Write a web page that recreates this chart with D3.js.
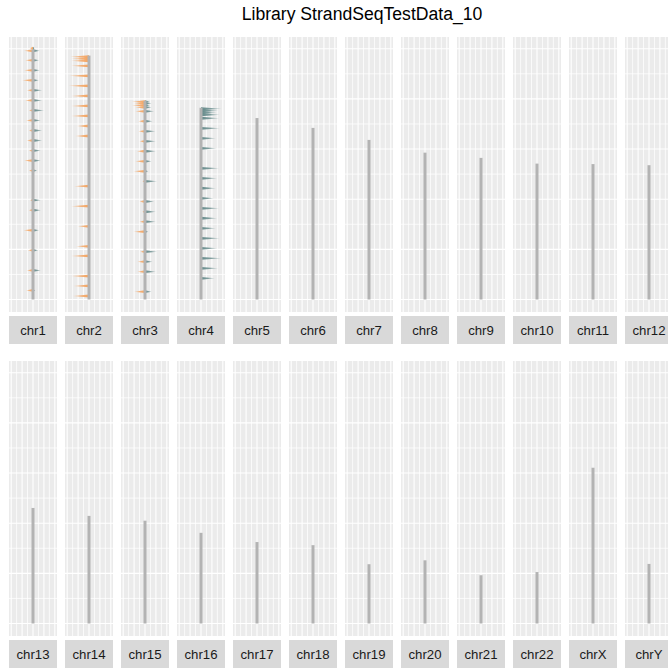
<!DOCTYPE html>
<html>
<head>
<meta charset="utf-8">
<script src="https://cdn.jsdelivr.net/npm/d3@7"></script>
<style>
  html, body { margin: 0; padding: 0; background: #fff; }
  svg { display: block; font-family: "Liberation Sans", Arial, Helvetica, sans-serif; }
</style>
</head>
<body>
<script>
// ---------------- data ----------------
const chartTitle = "Library StrandSeqTestData_10";
const chromosomes = ["chr1","chr2","chr3","chr4","chr5","chr6","chr7","chr8","chr9","chr10","chr11","chr12",
                     "chr13","chr14","chr15","chr16","chr17","chr18","chr19","chr20","chr21","chr22","chrX","chrY"];
// chromosome lengths (Mb)
const chromLengths = [249.25,243.2,198.0,191.15,180.9,171.1,159.1,146.4,141.2,135.5,135.0,133.9,
                      115.2,107.3,102.5,90.4,81.2,78.1,59.1,63.0,48.1,51.3,155.3,59.4];
// segments: [position (Mb), crick count (left), watson count (right)]
const chr1Segments = [
  [250.5,6,3],
  [248,16.5,12.8],[238.5,14.7,11.5],[228.5,16.5,12.8],[218.5,20.2,11],[208.5,11.5,17],
  [198.5,14.7,17],[188.5,7.9,20.7],[178.5,12.8,14.7],[168.5,7.9,17],[158.5,11.5,17],
  [148.5,7.9,14.7],[138.5,16.5,14.7],[128.5,7.9,7.9],[99,5.5,14.7],[89,7.9,14.7],
  [69,17.8,11.5],[49,9.7,9.7],[29,11.5,14.7],[9,12.8,4.2]
];
const chr2Segments = [
  [242,34.8,0],[240,33,0],[238,33,0],[233,33,0],[223,36.7,0],[213,38,0],[203,33,0],
  [193,33,0],[183,33,0],[173,22.5,0],[163,25.7,0],[113,27.5,0],[93,33,0],[73,20.7,0],
  [53,23.8,0],[43.4,33,0],[23.4,33,0],[13.5,28.8,0],[3.5,29.9,0]
];
const chr3Segments = [
  [197.2,24.4,9.2],[195.6,20.2,12.3],[193.6,24.4,9.2],[191.6,18.3,12.3],[187.6,18.3,17],
  [177.7,12.3,14.1],[167.7,12.3,19.6],[157.7,10.4,20.2],[147.8,15.2,20.2],[137.8,18.3,12.3],
  [127.8,21.4,6],[117.8,5,22.5],[97.7,10.4,17],[87.5,5,20.2],[77.6,10.4,20.2],
  [67.6,21.4,6],[47.7,9.2,22.5],[37.7,14.1,14.1],[27.7,14.1,20.2],[7.8,20.2,12.3]
];
const chr4Segments = [
  [190.2,0,37.9],[188.2,0,31.7],[186.2,0,28.8],[184.2,0,34.8],[180.7,0,33.5],[170.7,0,34.8],
  [160.7,0,27.5],[150.7,0,28.8],[130.8,0,33.5],[120.8,0,29.9],[110.9,0,27.5],[100.9,0,23.8],
  [90.9,0,33.5],[81,0,29.9],[71,0,27.5],[61,0,34.8],[51,0,29.9],[41.1,0,37.9],[31.1,0,31.7],[21.1,0,25.7]
];
const segmentsByChrom = { chr1: chr1Segments, chr2: chr2Segments, chr3: chr3Segments, chr4: chr4Segments };
const xTicks = [-40,-30,-20,-10,0,10,20,30,40];
const yTicks = [0,25,50,75,100,125,150,175,200,225,250];

// ---------------- layout ----------------
const W = 668, H = 669;
const panelW = 48, panelH = 275, pitch = 56, left0 = 9;
const rowTops = [37, 361];
const stripGap = 4, stripH = 28;
const colCrick = "#F4A460", colWatson = "#668B8B", colBar = "#B3B3B3";

const svg = d3.select("body").append("svg").attr("width", W).attr("height", H);

const defs = svg.append("defs");
function grad(id, color, reverse) {
  const g = defs.append("linearGradient").attr("id", id)
    .attr("x1", "0").attr("x2", "1").attr("y1", "0").attr("y2", "0");
  const stops = reverse ? [[0,1],[0.5,0.8],[1,0.25]] : [[0,0.25],[0.5,0.8],[1,1]];
  stops.forEach(([o, a]) => g.append("stop").attr("offset", o).attr("stop-color", color).attr("stop-opacity", a));
}
grad("gC", colCrick, false);
grad("gW", colWatson, true);

svg.append("text").attr("x", 362).attr("y", 20).attr("text-anchor", "middle")
  .attr("font-size", 17.6).attr("fill", "#000").text(chartTitle);

const maxLen = d3.max(chromLengths);
const x = d3.scaleLinear().domain([-44, 44]).range([0, panelW]);
const y = d3.scaleLinear().domain([-0.05 * maxLen, maxLen * 1.05]).range([panelH, 0]);

chromosomes.forEach((chr, i) => {
  const row = Math.floor(i / 12), col = i % 12;
  const g = svg.append("g").attr("transform", `translate(${left0 + col * pitch},${rowTops[row]})`);
  g.append("rect").attr("width", panelW).attr("height", panelH).attr("fill", "#EBEBEB");
  // grid
  g.selectAll(".gx").data(xTicks).enter().append("line")
    .attr("x1", d => x(d)).attr("x2", d => x(d)).attr("y1", 0).attr("y2", panelH)
    .attr("stroke", "#fff").attr("stroke-width", d => d % 20 === 0 ? 1.1 : 0.75);
  g.selectAll(".gy").data(yTicks).enter().append("line")
    .attr("x1", 0).attr("x2", panelW).attr("y1", d => y(d)).attr("y2", d => y(d))
    .attr("stroke", "#fff").attr("stroke-width", d => d % 50 === 0 ? 1.1 : 0.75);
  // segments
  const segs = segmentsByChrom[chr] || [];
  const hw = 1.4;
  segs.forEach(([pos, c, w]) => {
    const yy = y(pos), x0 = x(0);
    if (c > 0) {
      g.append("path").attr("d", `M${x0},${yy - hw}L${x0},${yy + hw}L${x(-c)},${yy}Z`).attr("fill", "url(#gC)");
    }
    if (w > 0) {
      g.append("path").attr("d", `M${x0},${yy - hw}L${x0},${yy + hw}L${x(w)},${yy}Z`).attr("fill", "url(#gW)");
    }
  });
  // chromosome bar
  g.append("rect").attr("x", x(-2.75)).attr("width", x(2.75) - x(-2.75))
    .attr("y", y(chromLengths[i])).attr("height", y(0) - y(chromLengths[i])).attr("fill", colBar);
  // strip
  g.append("rect").attr("y", panelH + stripGap).attr("width", panelW).attr("height", stripH).attr("fill", "#D9D9D9");
  g.append("text").attr("x", panelW / 2).attr("y", panelH + stripGap + stripH / 2 + 4.6)
    .attr("text-anchor", "middle").attr("font-size", 13.2).attr("fill", "#1A1A1A").text(chr);
});
</script>
</body>
</html>
